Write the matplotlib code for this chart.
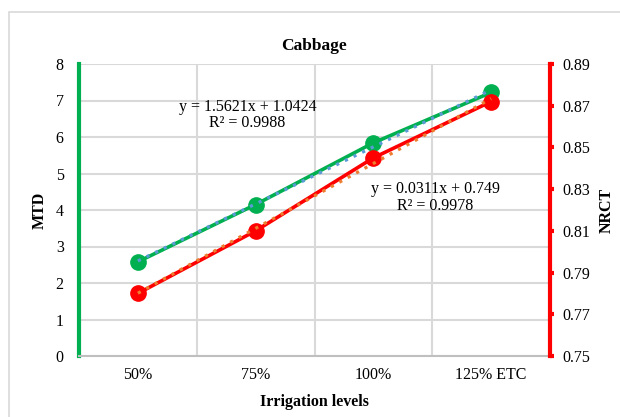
import numpy as np
import matplotlib
matplotlib.use('Agg')
import matplotlib.pyplot as plt
from matplotlib.patches import Rectangle

plt.rcParams['font.family'] = ['Liberation Serif', 'DejaVu Serif']

levels = ['50%', '75%', '100%', '125% ETC']
mtd = [2.58, 4.15, 5.84, 7.22]
nrct = [0.780, 0.810, 0.845, 0.872]

# linear trend coefficients (slope, intercept, R²)
mtd_fit = (1.5621, 1.0424, 0.9988)
nrct_fit = (0.0311, 0.749, 0.9978)

GREEN = '#00B050'
RED = '#FF0000'
GRID = '#D9D9D9'

fig = plt.figure(figsize=(6.2, 4.17), dpi=100)
ax = fig.add_axes([79 / 620, 61 / 417, 471 / 620, 292 / 417])
ax2 = ax.twinx()

x = np.arange(len(levels))

# MTD on the left axis
ax.plot(x, mtd, color=GREEN, lw=2.6, marker='o', ms=11, zorder=3)
ax.plot(x, mtd_fit[0] * (x + 1) + mtd_fit[1], color='#5B9BD5', lw=2.3,
        ls=(0, (1, 2)), zorder=4)

# NRCT on the right axis
ax2.plot(x, nrct, color=RED, lw=2.6, marker='o', ms=11, zorder=3)
ax2.plot(x, nrct_fit[0] * (x + 1) + nrct_fit[1], color='#ED7D31', lw=2.3,
         ls=(0, (1, 2)), zorder=4)

ax.set_xlim(-0.5, 3.5)
ax.set_ylim(0, 8)
ax.set_yticks(range(0, 9))
ax2.set_ylim(0.75, 0.89)
ax2.set_yticks([0.75, 0.77, 0.79, 0.81, 0.83, 0.85, 0.87, 0.89])
ax2.set_yticklabels(['0.75', '0.77', '0.79', '0.81', '0.83', '0.85', '0.87', '0.89'])

ax.set_xticks(x)
ax.set_xticklabels(levels)
ax.set_xticks(np.arange(0.5, 3.5, 1), minor=True)
ax.grid(axis='y', which='major', color=GRID, lw=1.5)
ax.grid(axis='x', which='minor', color=GRID, lw=1.5)
ax.set_axisbelow(True)

for s in ['top', 'right']:
    ax.spines[s].set_visible(False)
ax.spines['left'].set_color(GREEN)
ax.spines['left'].set_linewidth(3)
ax.spines['bottom'].set_color('#BFBFBF')
ax.spines['bottom'].set_linewidth(1.5)
for s in ['top', 'left', 'bottom']:
    ax2.spines[s].set_visible(False)
ax2.spines['right'].set_color(RED)
ax2.spines['right'].set_linewidth(3)

ax.tick_params(axis='y', length=0, pad=11, labelsize=11.5)
ax.tick_params(axis='x', which='both', length=0, pad=8, labelsize=11.5)
ax2.tick_params(axis='y', length=3, width=3, color=RED, pad=6, labelsize=11.5)

ax.set_title('Cabbage', fontsize=12.5, fontweight='bold', pad=10)
ax.set_xlabel('Irrigation levels', fontsize=11.5, fontweight='bold', labelpad=8)
ax.set_ylabel('MTD', fontsize=11.5, fontweight='bold', labelpad=6)
ax2.set_ylabel('NRCT', fontsize=11.5, fontweight='bold', labelpad=6)

ax.text(0.93, 6.6, f'y = {mtd_fit[0]}x + {mtd_fit[1]}\nR² = {mtd_fit[2]}',
        ha='center', va='center', fontsize=11.5, linespacing=1.05)
ax.text(2.525, 4.34, f'y = {nrct_fit[0]}x + {nrct_fit[1]}\nR² = {nrct_fit[2]}',
        ha='center', va='center', fontsize=11.5, linespacing=1.05)

fig.add_artist(Rectangle((9 / 620, -0.1), 1.2, (417 - 12) / 417 + 0.1,
                         transform=fig.transFigure, fill=False,
                         edgecolor=GRID, lw=1.2))

fig.savefig('out.png', dpi=100)
